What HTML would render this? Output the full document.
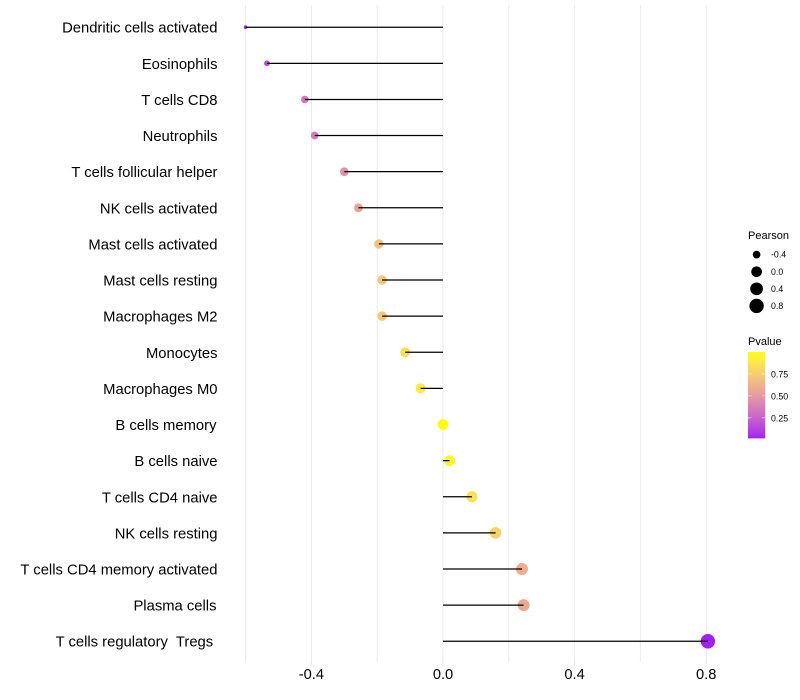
<!DOCTYPE html>
<html>
<head>
<meta charset="utf-8">
<title>Immune cell correlation lollipop chart</title>
<style>
html,body{margin:0;padding:0;background:#fff;}
svg{display:block;}
text{font-family:"Liberation Sans",sans-serif;fill:#000;white-space:pre;}
</style>
</head>
<body>
<svg id="chart" width="800" height="700" viewBox="0 0 800 700" xmlns="http://www.w3.org/2000/svg"></svg>
<script>
const categories = ["Dendritic cells activated","Eosinophils","T cells CD8","Neutrophils","T cells follicular helper","NK cells activated","Mast cells activated","Mast cells resting","Macrophages M2","Monocytes","Macrophages M0","B cells memory ","B cells naive","T cells CD4 naive","NK cells resting","T cells CD4 memory activated","Plasma cells ","T cells regulatory  Tregs  "];
const pearson = [-0.60,-0.535,-0.42,-0.39,-0.30,-0.257,-0.195,-0.185,-0.185,-0.115,-0.068,0.0,0.02,0.088,0.16,0.24,0.245,0.805];
const pvalue = [0.03,0.16,0.33,0.36,0.46,0.56,0.70,0.72,0.72,0.84,0.90,1.0,0.97,0.86,0.78,0.60,0.58,0.02];
const xMajorTicks = [-0.4,0.0,0.4,0.8];
const xMinorTicks = [-0.6,-0.2,0.2,0.6];
const sizeLegendValues = [-0.4,0.0,0.4,0.8];
const colorLegendValues = [0.25,0.50,0.75];

const svg = document.getElementById('chart');
const NS = 'http://www.w3.org/2000/svg';
function mk(tag, attrs, parent){
  const el = document.createElementNS(NS, tag);
  for (const k in attrs) el.setAttribute(k, attrs[k]);
  (parent || svg).appendChild(el);
  return el;
}
/* axis functions */
function xScale(v){ return 443 + v * 329; }
function yScale(i){ return 27.2 + i * 36.12; }
function sizeScale(v){ const t = Math.max(0,(v + 0.6) / 1.405); return 1.8 + 5.4 * Math.sqrt(t); }
const pMin = 0.02, pMax = 1.0;
function toLab(c){
  const f = u => { u/=255; return u>0.04045?Math.pow((u+0.055)/1.055,2.4):u/12.92; };
  const r=f(c[0]),g=f(c[1]),b=f(c[2]);
  const X=(0.4124*r+0.3576*g+0.1805*b)/0.95047,Y=0.2126*r+0.7152*g+0.0722*b,Z=(0.0193*r+0.1192*g+0.9505*b)/1.08883;
  const h=t=>t>0.008856?Math.cbrt(t):7.787*t+16/116;
  return [116*h(Y)-16,500*(h(X)-h(Y)),200*(h(Y)-h(Z))];
}
function fromLab(l){
  const fy=(l[0]+16)/116,fx=fy+l[1]/500,fz=fy-l[2]/200;
  const h=t=>t*t*t>0.008856?t*t*t:(t-16/116)/7.787;
  const X=h(fx)*0.95047,Y=h(fy),Z=h(fz)*1.08883;
  const g=u=>{u=Math.max(0,Math.min(1,u));return Math.round(255*(u>0.0031308?1.055*Math.pow(u,1/2.4)-0.055:12.92*u));};
  return `rgb(${g(3.2406*X-1.5372*Y-0.4986*Z)},${g(-0.9689*X+1.8758*Y+0.0415*Z)},${g(0.0557*X-0.2040*Y+1.0570*Z)})`;
}
const labLow = toLab([160,32,240]), labHigh = toLab([255,255,0]);
function colorScale(p){
  const t = Math.max(0,Math.min(1,(p - pMin) / (pMax - pMin)));
  return fromLab(labLow.map((v,i)=>v+(labHigh[i]-v)*t));
}
/* labels with trailing spaces sit slightly left of the axis edge */
function labelInset(c){
  const n = c.length - c.trimEnd().length;
  return n === 0 ? 0 : (n === 1 ? 1 : 4.3);
}

/* grid */
const grid = mk('g', {});


xMinorTicks.concat(xMajorTicks).forEach(v => {
  const l = mk('line', {x1:xScale(v),x2:xScale(v),y1:5,y2:662,stroke:'#ebebeb','stroke-width':1}, grid);
  
  
});
/* x axis */
const xAxis = mk('g', {});


xMajorTicks.forEach(v => {
  const tick = mk('line', {x1:xScale(v),x2:xScale(v),y1:662,y2:665.5,stroke:'#e4e4e4','stroke-width':1}, xAxis);
  
  
  const t = mk('text', {x:xScale(v),y:679,'text-anchor':'middle','font-size':'14.67px'}, xAxis);
  t.textContent = v.toFixed(1);
  
  
});
/* y labels */
const yAxis = mk('g', {});


categories.forEach((c,i) => {
  const t = mk('text', {x:217.5-labelInset(c),y:yScale(i)+5.5,'text-anchor':'end','font-size':'14.8px'}, yAxis);
  t.textContent = c.trimEnd();
  
  
});
/* points first, then segments on top */
const marks = mk('g', {});


pearson.forEach((v,i) => {
  const d = mk('circle', {cx:xScale(v),cy:yScale(i),r:sizeScale(v),fill:colorScale(pvalue[i])}, marks);
  
  
});
pearson.forEach((v,i) => {
  const s = mk('line', {x1:xScale(0),x2:xScale(v),y1:yScale(i),y2:yScale(i),stroke:'#000','stroke-width':1.25}, marks);
  
  
});
/* size legend */
const sizeLegend = mk('g', {});


const st = mk('text', {x:748,y:239,'font-size':'11px'}, sizeLegend);
st.textContent = 'Pearson';


sizeLegendValues.forEach((v,i) => {
  const y = 254.6 + i * 17.1;
  const c = mk('circle', {cx:756.6,cy:y,r:sizeScale(v),fill:'#000'}, sizeLegend);
  
  
  const t = mk('text', {x:771,y:y+3.1,'font-size':'8.8px'}, sizeLegend);
  t.textContent = v.toFixed(1);
  
  
});
/* colour legend */
const colorLegend = mk('g', {});


const ct = mk('text', {x:748,y:345,'font-size':'11px'}, colorLegend);
ct.textContent = 'Pvalue';


const defs = mk('defs', {});
const grad = mk('linearGradient', {id:'pgrad',x1:0,y1:1,x2:0,y2:0}, defs);
for (let k = 0; k <= 20; k++){
  mk('stop', {offset:(k/20),'stop-color':colorScale(pMin + (pMax-pMin)*k/20)}, grad);
}
const legendY = p => 438 - (p - pMin) / (pMax - pMin) * 86;
const bar = mk('rect', {x:748,y:352,width:17.3,height:86.4,fill:'url(#pgrad)'}, colorLegend);


colorLegendValues.forEach(v => {
  const y = legendY(v);
  [[748,751.5],[761.8,765.3]].forEach(p => {
    const l = mk('line', {x1:p[0],x2:p[1],y1:y,y2:y,stroke:'#fff','stroke-opacity':0.7,'stroke-width':0.7}, colorLegend);
    
    
  });
  const t = mk('text', {x:771,y:y+3.6,'font-size':'8.8px'}, colorLegend);
  t.textContent = v.toFixed(2);
  
  
});
</script>
</body>
</html>
